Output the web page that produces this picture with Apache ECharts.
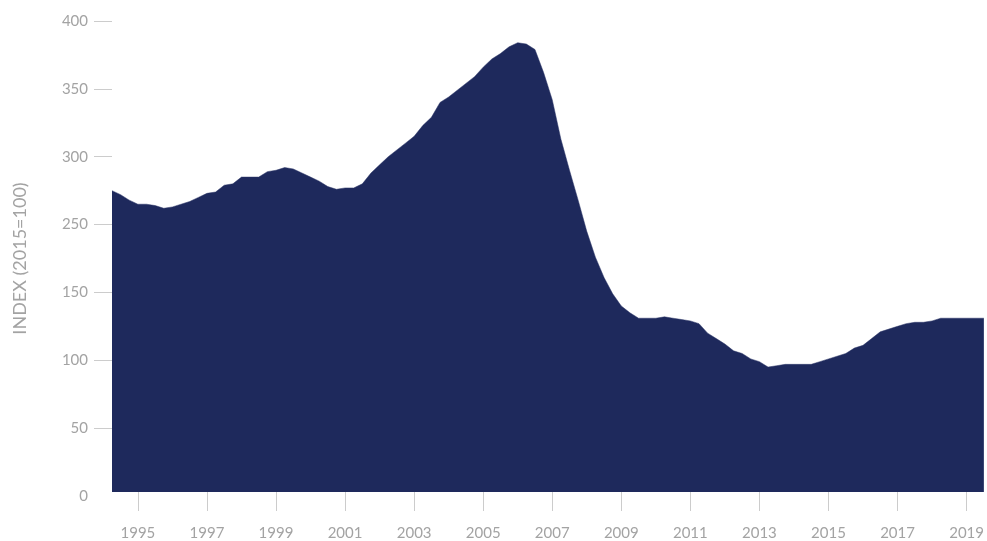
<!DOCTYPE html>
<html>
<head>
<meta charset="utf-8">
<script src="https://cdn.jsdelivr.net/npm/echarts@6/dist/echarts.min.js"></script>
<style>
html,body{margin:0;padding:0;background:#fff;}
#chart{width:987px;height:541px;}
</style>
</head>
<body>
<div id="chart"></div>
<script>
// Quarterly periods from 1994 Q2 to 2019 Q3
const startYear = 1994, startQuarter = 2;
// Index values (2015=100)
const indexValues = [
  275, 272, 268, 265, 265, 264, 262, 263, 265, 267, 270, 273, 274, 279, 280, 285,
  285, 285, 289, 290, 292, 291, 288, 285, 282, 278, 276, 277, 277, 280, 288, 294,
  300, 305, 310, 315, 323, 329, 340, 344, 349, 354, 359, 366, 372, 376, 381, 384,
  383, 379, 362, 342, 313, 290, 268, 240, 202, 172, 149, 140, 135, 131, 131, 131,
  132, 131, 130, 129, 127, 120, 116, 112, 107, 105, 101, 99, 95, 96, 97, 97,
  97, 97, 99, 101, 103, 105, 109, 111, 116, 121, 123, 125, 127, 128, 128, 129,
  131, 131, 131, 131, 131, 131
];
// Tick labels as printed on the reference's vertical axis (200 is not printed)
const yTickLabels = ['0', '50', '100', '150', '250', '300', '350', '400'];
const yAxisName = 'INDEX (2015=100)';

const categories = indexValues.map((_, i) => {
  const q = startQuarter - 1 + i;
  return (startYear + Math.floor(q / 4)) + ' Q' + (q % 4 + 1);
});

// The reference's axis spaces its printed labels evenly, so the band 150–250
// occupies one step; map index values onto that axis.
function toAxis(v) {
  if (v <= 150) return v;
  if (v <= 250) return 150 + (v - 150) / 2;
  return v - 50;
}

const isOddYearQ1 = (idx) => {
  const c = categories[idx];
  if (!c) return false;
  const y = parseInt(c, 10);
  return c.endsWith('Q1') && y % 2 === 1;
};

const labelColor = '#a3a3a3';
const tickColor = '#cccccc';
const font = 'Lato, "Open Sans", sans-serif';

const chart = echarts.init(document.getElementById('chart'));
chart.setOption({
  animation: false,
  grid: { left: 112, right: 0, top: 21, bottom: 44, containLabel: false },
  xAxis: {
    type: 'category',
    data: categories,
    boundaryGap: false,
    offset: -4,
    axisLine: { show: false },
    axisTick: {
      show: true, length: 19, interval: (i) => isOddYearQ1(i),
      lineStyle: { color: tickColor, width: 1 }
    },
    axisLabel: {
      interval: (i) => isOddYearQ1(i),
      formatter: (v) => v.slice(0, 4),
      color: labelColor, fontSize: 15, fontFamily: font, margin: 34
    },
    splitLine: { show: false }
  },
  yAxis: {
    type: 'value',
    min: 0, max: 350, interval: 50,
    name: yAxisName,
    nameLocation: 'middle',
    nameGap: 83,
    nameTextStyle: { color: labelColor, fontSize: 18, fontFamily: font },
    axisLine: { show: false },
    axisTick: {
      show: true, length: 18,
      customValues: [50, 100, 150, 200, 250, 300, 350],
      lineStyle: { color: tickColor, width: 1 }
    },
    axisLabel: {
      color: labelColor, fontSize: 15, fontFamily: font, margin: 24,
      formatter: (v) => yTickLabels[Math.round(v / 50)]
    },
    splitLine: { show: false }
  },
  series: [{
    type: 'line',
    data: indexValues.map(toAxis),
    symbol: 'none',
    lineStyle: { width: 0.5, color: '#2a3566' },
    areaStyle: { color: '#1e295c', opacity: 1, origin: 3 },
    itemStyle: { color: '#1e295c' }
  }]
});
</script>
</body>
</html>
